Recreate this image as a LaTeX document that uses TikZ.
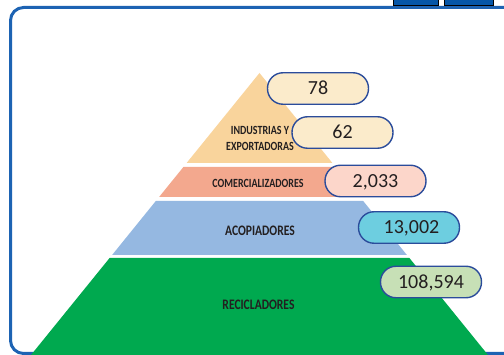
\documentclass[tikz,border=0pt]{standalone}
\usepackage{fontspec}
\setmainfont{Carlito}
\newfontfamily\labfont[FakeStretch=0.8]{Carlito}
\definecolor{peach}{HTML}{F9D49C}
\definecolor{salmon}{HTML}{F3A88E}
\definecolor{layerblue}{HTML}{95B8E1}
\definecolor{layergreen}{HTML}{00A94F}
\definecolor{boxborder}{HTML}{2B4C9B}
\definecolor{creamfill}{HTML}{FBEBCB}
\definecolor{pinkfill}{HTML}{FCD6CA}
\definecolor{cyanfill}{HTML}{6DCEE0}
\definecolor{greenfill}{HTML}{C7E0B6}
\definecolor{framecol}{HTML}{1D63B3}
\definecolor{topblue}{HTML}{0556A8}
\definecolor{txt}{HTML}{231F20}
\begin{document}
\begin{tikzpicture}[x=1pt,y=-1pt,
  numbox/.style={draw=boxborder,line width=1.4pt,rounded corners=15.5pt,
    minimum width=101pt,minimum height=31.5pt,inner sep=0pt,text=txt,
    font=\fontsize{20}{20}\selectfont,text height=12.6pt,text depth=0pt},
  lablarge/.style={text=txt,inner sep=0pt,font=\labfont\bfseries\fontsize{14.5}{16}\selectfont},
  labsmall/.style={text=txt,inner sep=0pt,align=center,font=\labfont\bfseries\fontsize{12.5}{16}\selectfont}]
\useasboundingbox (0,0) rectangle (504,355);
% frame
\draw[framecol,line width=3pt,rounded corners=13pt] (10.5,7.5) rectangle (540,353.5);
% top fragments
\draw[black,fill=topblue,line width=0.6pt] (393.5,-3) rectangle (438,5.5);
\draw[black,fill=topblue,line width=0.6pt] (444,-3) rectangle (493.5,5.5);
% pyramid
\fill[peach] (259.5,73) -- (332.4,163) -- (186.6,163) -- cycle;
\fill[salmon] (183.4,167) -- (335.6,167) -- (359.9,197) -- (159.1,197) -- cycle;
\fill[layerblue] (155.8,201) -- (363.2,201) -- (406.9,255) -- (112.1,255) -- cycle;
\fill[layergreen] (109.6,258) -- (409.4,258) -- (488,355) -- (31,355) -- cycle;
% labels
\node[labsmall] (ind) at (260,138) {INDUSTRIAS Y\\EXPORTADORAS};
\node[labsmall,anchor=base] (com) at (258,187.3) {COMERCIALIZADORES};
\node[lablarge,anchor=base] (aco) at (260,236) {ACOPIADORES};
\node[lablarge,anchor=base] (rec) at (258.5,310) {RECICLADORES};
% numbers
\node[numbox,fill=creamfill] (n78) at (318,88.5) {78};
\node[numbox,fill=creamfill] (n62) at (342.5,132.5) {62};
\node[numbox,fill=pinkfill] (n2033) at (375.5,181) {2,033};
\node[numbox,fill=cyanfill] (n13002) at (409,227.5) {\hspace*{5pt}13,002};
\node[numbox,fill=greenfill] (n108594) at (431,282) {108,594};
\end{tikzpicture}
\end{document}
